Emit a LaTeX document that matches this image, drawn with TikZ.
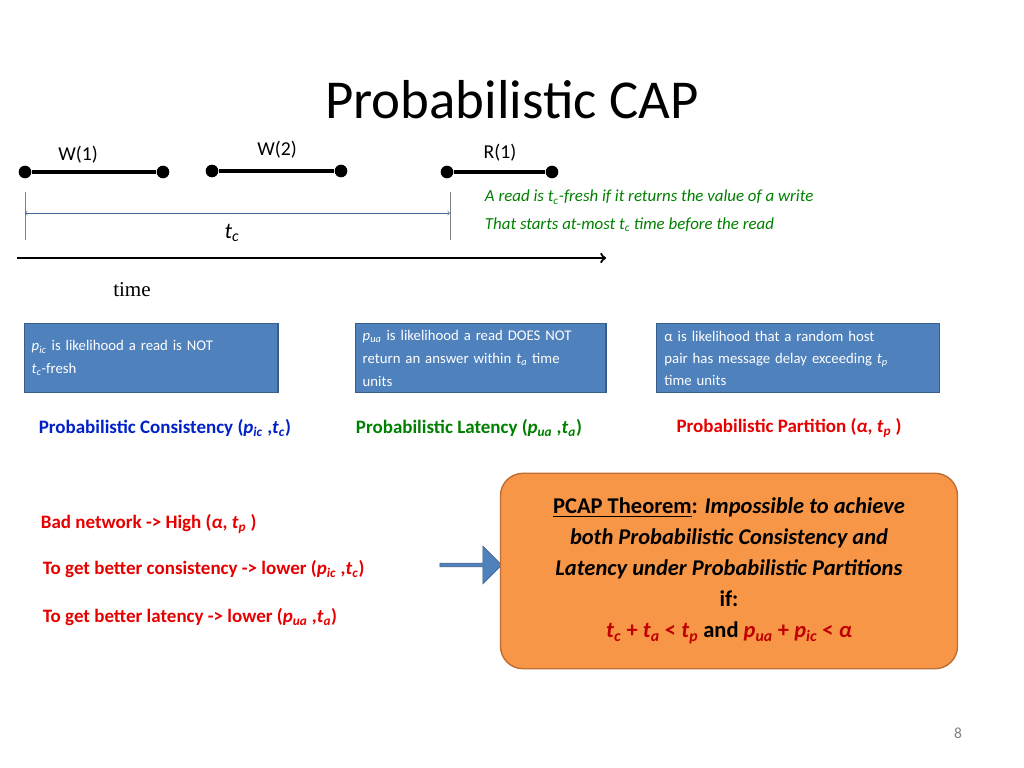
\documentclass[tikz,border=0pt]{standalone}
\usepackage{fontspec}
\setmainfont{Carlito}
\newfontfamily\timesfont{Liberation Serif}
\usetikzlibrary{shapes.arrows}
\definecolor{boxblue}{RGB}{79,129,189}
\definecolor{boxedge}{RGB}{56,93,138}
\definecolor{pgreen}{RGB}{0,128,0}
\definecolor{pblue}{RGB}{0,32,200}
\definecolor{pred}{RGB}{230,0,0}
\definecolor{dred}{RGB}{192,0,0}
\definecolor{porange}{RGB}{247,150,70}
\definecolor{oedge}{RGB}{190,110,50}
\newcommand{\vr}[2]{\textit{#1}\textsubscript{\textit{#2}}}
\tikzset{
  dot/.style = {circle, fill = black, inner sep = 0pt, minimum size = 9pt},
  seg/.style = {line width = 2.2pt, black},
  infobox/.style = {draw = boxedge, line width = 1pt, fill = boxblue, text = white,
    anchor = north west, minimum height = 49pt, inner sep = 5pt, align = left,
    font = \fontsize{10.5}{16}\selectfont},
  lbl/.style = {font = \fontsize{13.5}{16}\selectfont\bfseries},
}
\begin{document}
\begin{tikzpicture}[x = 0.025cm, y = -0.025cm]
        \useasboundingbox (0, 0) rectangle (1024, 768);
        \node[font = \fontsize{39}{44}\selectfont] (title) at (512, 100) {Probabilistic CAP};
        % operations
        \node[dot] (w1a) at (25, 172) {};
        \node[dot] (w1b) at (163, 172) {};
        \node[dot] (w2a) at (212, 171) {};
        \node[dot] (w2b) at (341, 171) {};
        \node[dot] (r1a) at (447, 172) {};
        \node[dot] (r1b) at (552, 172) {};
        \draw[seg] (w1a) -- (w1b);
        \draw[seg] (w2a) -- (w2b);
        \draw[seg] (r1a) -- (r1b);
        \node[font = \fontsize{14}{16}\selectfont] (w1) at (78, 155) {W(1)};
        \node[font = \fontsize{14}{16}\selectfont] (w2) at (277, 150) {W(2)};
        \node[font = \fontsize{14}{16}\selectfont] (r1) at (500, 153) {R(1)};
        % t_c span
        \coordinate (ta) at (25, 192);
        \coordinate (tb) at (450, 192);
        \coordinate (tc) at (25, 240);
        \coordinate (td) at (450, 240);
        \draw[thin, gray] (ta) -- (tc);
        \draw[thin, gray] (tb) -- (td);
        \draw[thin, boxblue!80!black, <->] (25, 213) -- (450, 213);
        \node[font = \fontsize{16}{16}\selectfont] (tclbl) at (232, 233) {\vr{t}{c}};
        % time axis
        \coordinate (t0) at (17, 258);
        \coordinate (t1) at (606, 258);
        \draw[line width = 1.6pt, ->] (t0) -- (t1);
        \node[font = \fontsize{15}{16}\selectfont\timesfont] (time) at (132, 290) {time};
        \node[anchor = west, text = pgreen, align = left, font = \fontsize{12}{19.5}\selectfont\itshape] (fresh) at (480, 211)
            {A read is \vr{t}{c}-fresh if it returns the value of a write\\That starts at-most \vr{t}{c} time before the read};
        % boxes
        \node[infobox, minimum width = 180pt, text width = 170pt] (b1) at (24, 323)
            {\vr{p}{ic} is likelihood a read is NOT\\\vr{t}{c}-fresh};
        \node[infobox, minimum width = 178pt, text width = 168pt, font = \fontsize{10.5}{16.5}\selectfont, inner sep = 3pt] (b2) at (355, 323)
            {\vr{p}{ua} is likelihood a read DOES NOT\\return an answer within \vr{t}{a} time\\units};
        \node[infobox, minimum width = 201pt, text width = 190pt, inner sep = 3pt, font = \fontsize{10.5}{15.5}\selectfont] (b3) at (656, 323)
            {α is likelihood that a random host\\pair has message delay exceeding \vr{t}{p}\\time units};
        \node[lbl, text = pblue] (pc) at (165, 428) {Probabilistic Consistency (\vr{p}{ic} ,\vr{t}{c})};
        \node[lbl, text = pgreen] (pl) at (469, 428) {Probabilistic Latency (\vr{p}{ua} ,\vr{t}{a})};
        \node[lbl, text = pred] (pp) at (789, 428) {Probabilistic Partition (\textit{α}, \vr{t}{p} )};
        % consequences
        \node[lbl, text = pred, anchor = west] (bad) at (36, 524) {Bad network -> High (\textit{α}, \vr{t}{p} )};
        \node[lbl, text = pred, anchor = west] (cons) at (38, 569) {To get better consistency -> lower (\vr{p}{ic} ,\vr{t}{c})};
        \node[lbl, text = pred, anchor = west] (lat) at (38, 617) {To get better latency -> lower (\vr{p}{ua} ,\vr{t}{a})};
        \node[single arrow, draw = boxedge, fill = boxblue, minimum height = 44pt, minimum width = 27pt,
            single arrow head extend = 2pt, inner sep = 0pt] (arr) at (470, 565) {};
        % theorem
        \node[draw = oedge, line width = 1pt, fill = porange, rounded corners = 16pt,
            minimum width = 325pt, minimum height = 139pt, align = center,
            font = \fontsize{16}{22}\selectfont\bfseries] (thm) at (729, 571)
            {\underline{PCAP Theorem}: \textit{Impossible to achieve}\\
             \textit{both Probabilistic Consistency and}\\
             \textit{Latency under Probabilistic Partitions}\\
             if:\\
             \textcolor{dred}{\vr{t}{c} + \vr{t}{a} < \vr{t}{p}} and \textcolor{dred}{\vr{p}{ua} + \vr{p}{ic} < \textit{α}}};
        \node[text = gray, font = \fontsize{11}{12}\selectfont] (page) at (958, 733) {8};
    \end{tikzpicture}
\end{document}
